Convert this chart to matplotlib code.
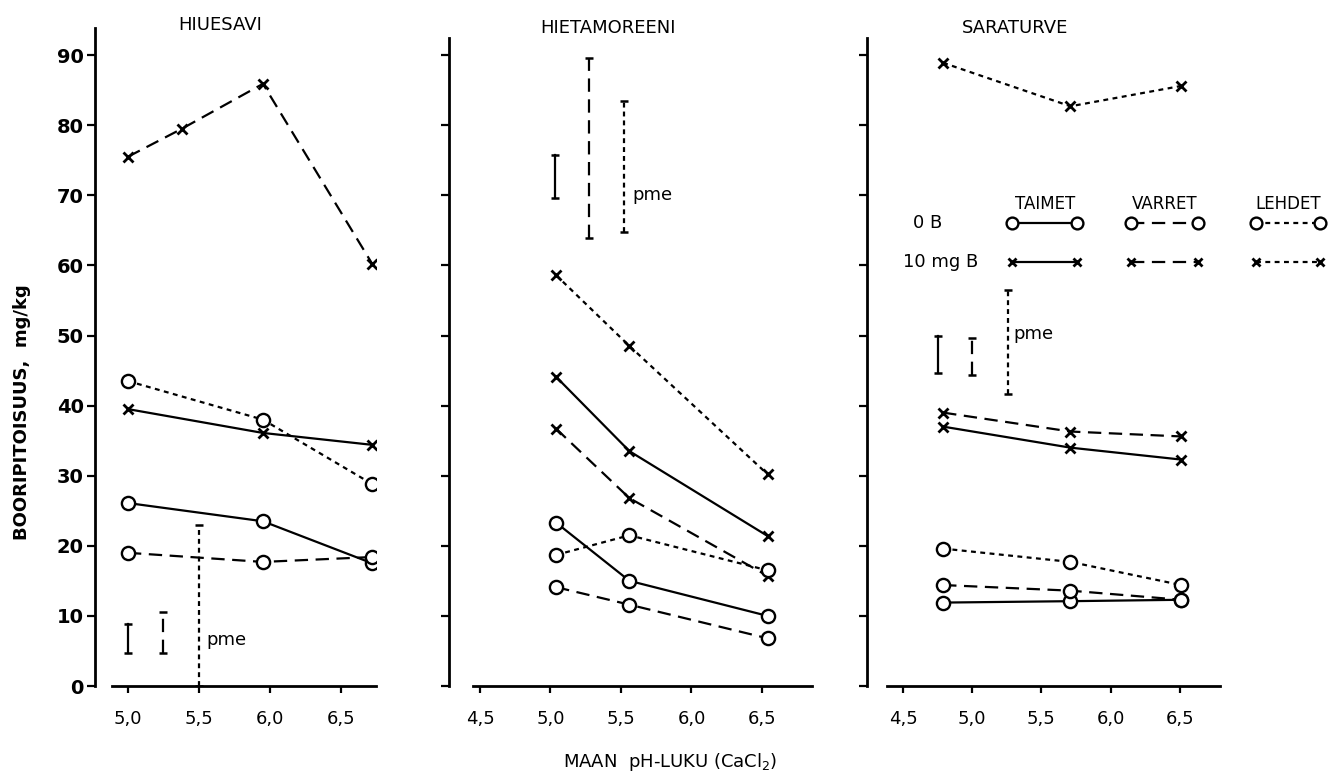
import matplotlib
matplotlib.use('Agg')
import matplotlib.pyplot as plt

plt.rcParams['font.family'] = ['DejaVu Sans']

# --- data ---
panel_titles = ['HIUESAVI', 'HIETAMOREENI', 'SARATURVE']

# HIUESAVI
hs_x = [5.0, 5.95, 6.72]
hs_taimet_0 = [26.1, 23.5, 17.5]
hs_taimet_10 = [39.5, 36.1, 34.4]
hs_varret_0 = [19.0, 17.7, 18.4]
hs_varret_10_x = [5.0, 5.38, 5.95, 6.72]
hs_varret_10 = [75.5, 79.5, 85.9, 60.2]
hs_lehdet_0 = [43.5, 38.0, 28.8]

# HIETAMOREENI
hm_x = [5.04, 5.56, 6.54]
hm_taimet_0 = [23.3, 15.0, 10.0]
hm_taimet_10 = [44.1, 33.5, 21.4]
hm_varret_0 = [14.1, 11.6, 6.8]
hm_varret_10 = [36.7, 26.8, 15.7]
hm_lehdet_0 = [18.7, 21.5, 16.5]
hm_lehdet_10 = [58.6, 48.5, 30.2]

# SARATURVE
st_x = [4.79, 5.71, 6.51]
st_taimet_0 = [11.9, 12.1, 12.3]
st_taimet_10 = [37.0, 34.0, 32.3]
st_varret_0 = [14.4, 13.6, 12.3]
st_varret_10 = [39.0, 36.3, 35.6]
st_lehdet_0 = [19.6, 17.7, 14.4]
st_lehdet_10 = [88.9, 82.7, 85.6]

# pme bars: x, low, high  (taimet, varret, lehdet)
hs_pme_x = [5.0, 5.25, 5.5]
hs_pme_lo = [4.7, 4.7, 0.0]
hs_pme_hi = [8.8, 10.5, 23.0]
hm_pme_x = [5.03, 5.27, 5.52]
hm_pme_lo = [69.6, 63.9, 64.8]
hm_pme_hi = [75.7, 89.6, 83.4]
st_pme_x = [4.75, 5.0, 5.26]
st_pme_lo = [44.7, 44.4, 41.6]
st_pme_hi = [50.0, 49.7, 56.5]

y_ticks = [0, 10, 20, 30, 40, 50, 60, 70, 80, 90]
x_ticks_left = [5.0, 5.5, 6.0, 6.5]
x_ticks_other = [4.5, 5.0, 5.5, 6.0, 6.5]

# --- styles ---
ls_taimet = '-'
ls_varret = (0, (6.0, 3.4))
ls_lehdet = (0, (2.2, 2.0))
LW = 1.6
circ = dict(marker='o', markersize=9.5, markerfacecolor='white',
            markeredgecolor='black', markeredgewidth=1.7)
cross = dict(marker='x', markersize=6.5, markeredgewidth=2.0, color='black')

W, H = 1334, 780
fig = plt.figure(figsize=(W / 100, H / 100), dpi=100)

bottom_px, top_px = 686, 28
ytop = (bottom_px - top_px) / 7.01


def make_ax(left_px, right_px, xlim, xstart, ticks, show_ylabels, ytop_spine):
    ax = fig.add_axes([left_px / W, 1 - bottom_px / H,
                       (right_px - left_px) / W, (bottom_px - top_px) / H])
    ax.set_xlim(*xlim)
    ax.set_ylim(0, ytop)
    for s in ['top', 'right']:
        ax.spines[s].set_visible(False)
    ax.spines['left'].set_linewidth(2.0)
    ax.spines['bottom'].set_linewidth(2.0)
    ax.spines['bottom'].set_bounds(xstart, xlim[1])
    ax.spines['left'].set_bounds(0, ytop_spine)
    ax.set_yticks(y_ticks)
    if show_ylabels:
        ax.set_yticklabels([str(v) for v in y_ticks], fontweight='bold', fontsize=14)
    else:
        ax.set_yticklabels([])
    ax.set_xticks(ticks)
    ax.set_xticklabels([f'{t:.1f}'.replace('.', ',') for t in ticks], fontsize=13)
    ax.tick_params(axis='y', direction='out', length=6, width=1.6, pad=2)
    ax.tick_params(axis='x', direction='out', length=5, width=1.6, pad=12)
    return ax


ax1 = make_ax(95, 376, (4.768, 6.746), 4.887, x_ticks_left, True, ytop)
ax2 = make_ax(449, 812, (4.28, 6.855), 4.45, x_ticks_other, False, 92.4)
ax3 = make_ax(867, 1220, (4.24, 6.79), 4.385, x_ticks_other, False, 92.4)

# HIUESAVI
ax1.plot(hs_x, hs_taimet_0, linestyle=ls_taimet, lw=LW, color='black', **circ)
ax1.plot(hs_x, hs_taimet_10, linestyle=ls_taimet, lw=LW, **cross)
ax1.plot(hs_x, hs_varret_0, linestyle=ls_varret, lw=LW, color='black', **circ)
ax1.plot(hs_varret_10_x, hs_varret_10, linestyle=ls_varret, lw=LW, **cross)
ax1.plot(hs_x, hs_lehdet_0, linestyle=ls_lehdet, lw=LW, color='black', **circ)

# HIETAMOREENI
ax2.plot(hm_x, hm_taimet_0, linestyle=ls_taimet, lw=LW, color='black', **circ)
ax2.plot(hm_x, hm_taimet_10, linestyle=ls_taimet, lw=LW, **cross)
ax2.plot(hm_x, hm_varret_0, linestyle=ls_varret, lw=LW, color='black', **circ)
ax2.plot(hm_x, hm_varret_10, linestyle=ls_varret, lw=LW, **cross)
ax2.plot(hm_x, hm_lehdet_0, linestyle=ls_lehdet, lw=LW, color='black', **circ)
ax2.plot(hm_x, hm_lehdet_10, linestyle=ls_lehdet, lw=LW, **cross)

# SARATURVE
ax3.plot(st_x, st_taimet_0, linestyle=ls_taimet, lw=LW, color='black', **circ)
ax3.plot(st_x, st_taimet_10, linestyle=ls_taimet, lw=LW, **cross)
ax3.plot(st_x, st_varret_0, linestyle=ls_varret, lw=LW, color='black', **circ)
ax3.plot(st_x, st_varret_10, linestyle=ls_varret, lw=LW, **cross)
ax3.plot(st_x, st_lehdet_0, linestyle=ls_lehdet, lw=LW, color='black', **circ)
ax3.plot(st_x, st_lehdet_10, linestyle=ls_lehdet, lw=LW, **cross)

# pme bars
pme_styles = [ls_taimet, ls_varret, (0, (2.2, 1.8))]
for ax, px, lo, hi in [(ax1, hs_pme_x, hs_pme_lo, hs_pme_hi),
                       (ax2, hm_pme_x, hm_pme_lo, hm_pme_hi),
                       (ax3, st_pme_x, st_pme_lo, st_pme_hi)]:
    for i in range(3):
        ax.plot([px[i], px[i]], [lo[i], hi[i]], color='black', lw=1.6,
                linestyle=pme_styles[i], marker='_', markersize=6, markeredgewidth=1.8)
ax1.text(5.55, 6.5, 'pme', fontsize=13, va='center', ha='left')
ax2.text(5.58, 70.0, 'pme', fontsize=13, va='center', ha='left')
ax3.text(5.30, 50.2, 'pme', fontsize=13, va='center', ha='left')

# titles
fig.text(220 / W, 1 - 25 / H, panel_titles[0], fontsize=13, ha='center', va='center')
fig.text(608 / W, 1 - 28 / H, panel_titles[1], fontsize=13, ha='center', va='center')
fig.text(1015 / W, 1 - 28 / H, panel_titles[2], fontsize=13, ha='center', va='center')

# axis labels
fig.text(22 / W, 1 - 412 / H, 'BOORIPITOISUUS,  mg/kg', rotation=90, fontsize=13,
         fontweight='bold', ha='center', va='center',
         family=['Liberation Sans Narrow', 'DejaVu Sans'])
fig.text(670 / W, 1 - 762 / H, 'MAAN  pH-LUKU (CaCl$_2$)', fontsize=13,
         ha='center', va='center')

# legend drawn inside the right panel
leg_cols = [(5.29, 5.76, ls_taimet, 'TAIMET'),
            (6.15, 6.63, ls_varret, 'VARRET'),
            (7.05, 7.51, ls_lehdet, 'LEHDET')]
y_head, y_0b, y_10b = 68.8, 66.0, 60.5
for x0, x1, ls, name in leg_cols:
    ax3.text((x0 + x1) / 2, y_head, name, fontsize=12, ha='center', va='center', clip_on=False)
    ax3.plot([x0, x1], [y_0b, y_0b], linestyle=ls, lw=LW, color='black', clip_on=False,
             **dict(circ, markersize=8.5))
    ax3.plot([x0, x1], [y_10b, y_10b], linestyle=ls, lw=LW, clip_on=False,
             **dict(cross, markersize=5.5))
ax3.text(4.57, y_0b, '0 B', fontsize=13, ha='left', va='center')
ax3.text(4.50, y_10b, '10 mg B', fontsize=13, ha='left', va='center')

fig.savefig('out.png', dpi=100)
